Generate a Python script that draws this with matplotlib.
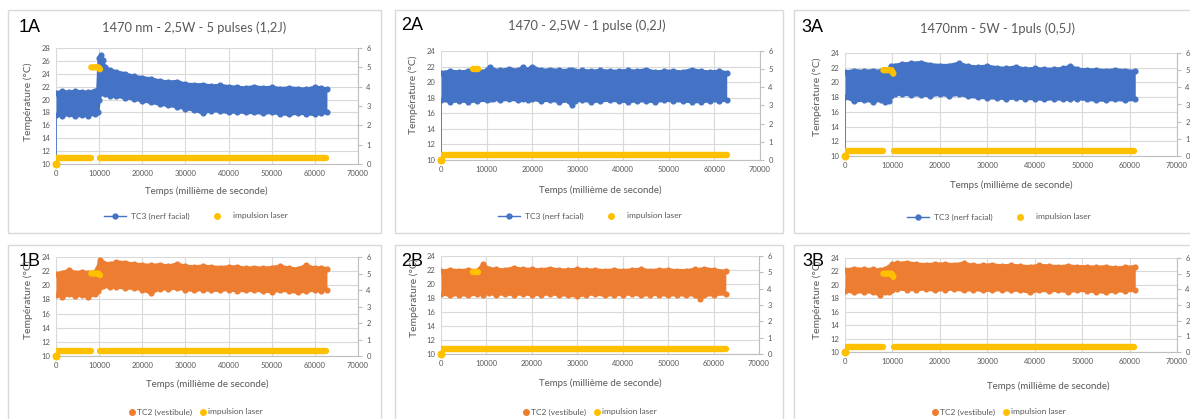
import matplotlib
matplotlib.use("Agg")
import matplotlib.pyplot as plt
from matplotlib.lines import Line2D
from matplotlib.patches import Rectangle

plt.rcParams['font.family'] = ['Lato', 'DejaVu Sans']

W, H = 1190, 419
BLUE = '#4472C4'
ORANGE = '#ED7D31'
YELLOW = '#FFC000'
GREY = '#595959'
GRID = '#D9D9D9'

# ---- mesures TC3 (nerf facial) : enveloppe haute / basse du signal ----
t_1a = [0, 1500, 3000, 4500, 6000, 7500, 9000, 9700, 10000, 10400, 10800, 11300, 12500, 14000, 16000,
        18000, 20000, 22000, 24000, 26000, 28000, 30000, 32000, 34000, 36000, 38000, 40000, 42000,
        44000, 46000, 48000, 50000, 52000, 54000, 56000, 58000, 60000, 61500, 62800]
haut_1a = [21.0, 21.3, 21.1, 21.3, 21.2, 21.1, 21.4, 21.5, 26.5, 26.9, 26.2, 25.0, 24.6, 24.3, 24.0,
           23.6, 23.4, 23.2, 22.9, 22.7, 22.8, 22.4, 22.3, 22.3, 22.1, 22.2, 22.0, 21.9,
           21.8, 22.0, 21.8, 21.9, 21.7, 21.8, 21.7, 21.6, 21.9, 21.8, 21.6]
bas_1a = [17.6, 17.5, 17.7, 17.4, 17.6, 17.5, 17.8, 18.0, 20.0, 21.0, 21.2, 20.8, 20.6, 20.5, 20.3,
          20.1, 19.8, 19.6, 19.3, 19.1, 18.9, 18.6, 18.4, 17.9, 18.3, 18.2, 18.0, 18.1,
          18.0, 18.0, 17.9, 18.0, 17.8, 17.7, 17.9, 17.8, 17.7, 17.9, 18.0]

t_2a = [0, 2000, 4000, 6000, 8000, 10000, 10700, 11500, 13000, 15000, 17000, 18000, 19000, 20000,
        22000, 24000, 26000, 28000, 28700, 29500, 31000, 33000, 35000, 37000, 39000, 41000, 43000,
        45000, 47000, 49000, 51000, 53000, 55000, 57000, 59000, 61000, 62700]
haut_2a = [21.2, 21.4, 21.3, 21.4, 21.3, 21.5, 22.0, 21.6, 21.5, 21.7, 21.5, 22.0, 21.6, 22.0,
           21.5, 21.6, 21.5, 21.5, 21.5, 21.4, 21.5, 21.4, 21.5, 21.4, 21.4, 21.5, 21.4,
           21.6, 21.3, 21.4, 21.4, 21.3, 21.6, 21.4, 21.3, 21.4, 21.2]
bas_2a = [17.7, 17.5, 17.6, 17.5, 17.6, 17.7, 17.8, 17.8, 17.7, 17.8, 17.7, 17.8, 17.7, 17.8,
          17.6, 17.7, 17.5, 17.6, 17.0, 17.6, 17.7, 17.5, 17.6, 17.7, 17.6, 17.5, 17.6,
          17.6, 17.5, 17.7, 17.6, 17.6, 17.5, 17.5, 17.6, 17.6, 17.7]

t_3a = [0, 2000, 4000, 6000, 7500, 8500, 9200, 9800, 10500, 12000, 14000, 16000, 18000, 20000,
        22000, 24000, 26000, 28000, 30000, 32000, 34000, 36000, 38000, 40000, 42000, 44000,
        46000, 47500, 49000, 51000, 53000, 55000, 57000, 59000, 61200]
haut_3a = [21.4, 21.6, 21.5, 21.6, 21.5, 21.6, 21.7, 22.3, 22.3, 22.5, 22.6, 22.7, 22.4, 22.3,
           22.3, 22.6, 22.2, 22.1, 22.2, 22.0, 21.9, 22.1, 21.8, 21.9, 21.8, 21.8,
           21.9, 22.2, 21.8, 21.7, 21.7, 21.6, 21.7, 21.6, 21.5]
bas_3a = [18.0, 17.5, 17.6, 17.4, 17.6, 17.3, 17.5, 18.2, 18.4, 18.4, 18.3, 18.3, 18.2, 18.4,
          18.2, 18.4, 18.1, 18.0, 17.9, 17.9, 17.8, 17.9, 17.8, 17.8, 17.7, 17.8,
          17.7, 17.7, 17.8, 17.7, 17.6, 17.6, 17.7, 17.6, 17.7]

# ---- mesures TC2 (vestibule) ----
t_1b = [0, 1500, 3000, 4500, 6000, 7500, 9000, 9700, 10200, 11000, 12500, 14000, 16000, 18000,
        20000, 22000, 24000, 26000, 28000, 30000, 32000, 34000, 36000, 38000, 40000, 42000,
        44000, 46000, 48000, 50000, 52000, 54000, 56000, 58000, 60000, 61500, 62800]
haut_1b = [21.6, 21.8, 22.1, 21.8, 21.9, 21.8, 21.9, 22.5, 23.6, 23.2, 23.0, 23.3, 23.2, 23.0,
           22.9, 22.8, 22.9, 22.7, 23.0, 22.7, 22.6, 22.7, 22.6, 22.5, 22.6, 22.6,
           22.4, 22.5, 22.4, 22.5, 22.7, 22.4, 22.3, 22.8, 22.4, 22.5, 22.3]
bas_1b = [18.6, 18.4, 18.7, 18.5, 18.6, 18.4, 18.7, 19.2, 19.8, 19.9, 19.7, 19.8, 19.6, 19.6,
          19.4, 18.9, 19.5, 19.5, 19.6, 19.4, 19.3, 19.4, 19.3, 19.3, 19.4, 19.2,
          19.3, 19.3, 19.2, 19.1, 19.3, 19.2, 19.0, 19.2, 19.3, 19.2, 19.4]

t_2b = [0, 2000, 4000, 6000, 8000, 9300, 10500, 12000, 14000, 16000, 18000, 20000, 22000, 24000,
        26000, 28000, 30000, 32000, 34000, 36000, 38000, 40000, 42000, 44000, 46000, 48000,
        50000, 52000, 54000, 56000, 57000, 58000, 60000, 62700]
haut_2b = [21.8, 22.0, 21.9, 22.0, 21.9, 22.8, 22.2, 22.1, 22.0, 22.3, 22.1, 22.1, 22.0, 22.2,
           22.0, 22.0, 22.1, 22.0, 22.0, 21.9, 22.0, 21.9, 22.0, 22.1, 21.9, 22.0,
           22.0, 21.9, 21.9, 22.1, 22.0, 22.2, 22.0, 21.8]
bas_2b = [18.6, 18.4, 18.5, 18.4, 18.6, 18.5, 18.7, 18.5, 18.6, 18.5, 18.6, 18.5, 18.5, 18.6,
          18.5, 18.4, 18.3, 18.5, 18.6, 18.4, 18.5, 18.5, 18.6, 18.4, 18.5, 18.5,
          18.4, 18.5, 18.4, 18.5, 17.9, 18.4, 18.5, 18.6]

t_3b = [0, 2000, 4000, 6000, 7300, 8500, 9300, 10000, 11000, 13000, 15000, 17000, 19000, 21000,
        23000, 25000, 27000, 29000, 31000, 33000, 35000, 37000, 39000, 41000, 43000, 45000,
        47000, 49000, 51000, 53000, 55000, 57000, 59000, 61200]
haut_3b = [22.2, 22.4, 22.3, 22.3, 22.2, 22.4, 22.6, 23.1, 23.2, 23.3, 23.1, 23.0, 23.1, 23.1,
           23.0, 23.2, 22.9, 22.9, 23.0, 22.8, 22.9, 22.8, 22.7, 22.9, 22.8, 22.7,
           22.8, 22.7, 22.7, 22.6, 22.7, 22.5, 22.6, 22.7]
bas_3b = [19.1, 18.9, 19.0, 18.9, 18.5, 18.9, 19.0, 19.3, 19.4, 19.3, 19.3, 19.4, 19.2, 19.3,
          19.4, 19.2, 19.3, 19.2, 19.2, 19.3, 19.2, 19.2, 18.9, 19.2, 19.1, 19.2,
          19.0, 19.2, 19.1, 19.0, 18.9, 19.1, 19.1, 19.2]

# ---- impulsion laser (axe secondaire) : segments de base + impulsion ----
base_1 = [(0, 8000), (10300, 62500)]
pulse_t_1 = [8200, 9000, 9800, 10200]
pulse_v_1 = [5.0, 5.0, 5.0, 4.9]
base_2 = [(0, 62700)]
pulse_t_2 = [7000, 7600, 8100]
pulse_v_2 = [5.0, 5.0, 5.0]
base_3 = [(0, 8000), (10400, 60900)]
pulse_t_3 = [8100, 9000, 9800, 10200]
pulse_v_3 = [5.0, 5.0, 5.0, 4.8]
laser_niveau = 0.3

titres = ['1470 nm - 2,5W - 5 pulses (1,2J)', '1470 - 2,5W - 1 pulse (0,2J)', '1470nm - 5W - 1puls (0,5J)']

fig = plt.figure(figsize=(W / 100, H / 100), dpi=100)
fig.patch.set_facecolor('white')


def fx(x):
    return x / W


def fy(y):
    return 1 - y / H


def cadre(x0, y0, x1, y1):
    fig.patches.append(Rectangle((fx(x0), fy(y1)), fx(x1 - x0), (y1 - y0) / H,
                                 transform=fig.transFigure, fill=False, ec=GRID, lw=1))


def panneau(zone, t, haut, bas, couleur, ymax, base, pulse_t, pulse_v, trait_depart):
    x0, y0, x1, y1 = zone
    ax = fig.add_axes([fx(x0), fy(y1), fx(x1 - x0), (y1 - y0) / H])
    ax.set_xlim(0, 70000)
    ax.set_ylim(10, ymax)
    ax.set_xticks(range(0, 70001, 10000))
    ax.set_yticks(range(10, ymax + 1, 2))
    ax.grid(True, color=GRID, lw=0.8)
    ax.set_axisbelow(True)
    for s in ['top', 'left', 'right']:
        ax.spines[s].set_visible(False)
    ax.spines['bottom'].set_color('#BFBFBF')
    ax.tick_params(length=0, labelsize=5.5, labelcolor=GREY, pad=4)

    if trait_depart:
        ax.plot([0, 0], [10, bas[0]], color=couleur, lw=1.2, zorder=2)
    ax.fill_between(t, bas, haut, color=couleur, lw=0, zorder=3)
    ax.plot(t, haut, color=couleur, lw=2.4, marker='o', ms=3.4, zorder=3, solid_joinstyle='round')
    ax.plot(t, bas, color=couleur, lw=2.4, marker='o', ms=3.4, zorder=3, solid_joinstyle='round')

    ax2 = ax.twinx()
    ax2.set_ylim(0, 6)
    ax2.set_yticks(range(0, 7))
    for s in ['top', 'left', 'bottom']:
        ax2.spines[s].set_visible(False)
    ax2.spines['right'].set_color('#BFBFBF')
    ax2.tick_params(axis='y', length=3, color='#BFBFBF', labelsize=5.5, labelcolor=GREY, pad=3)
    for a, b in base:
        ax2.plot([a, b], [laser_niveau, laser_niveau], color=YELLOW, lw=4.6, solid_capstyle='round')
    ax2.plot(pulse_t, pulse_v, color=YELLOW, lw=4.6, solid_capstyle='round', solid_joinstyle='round')
    ax2.plot([0], [0], 'o', color=YELLOW, ms=4.8, clip_on=False)
    return ax


def textes(label, lx, ly, ylab_x, ylab_y, xlab_x, xlab_y, leg_x, leg_y, couleur, nom, ligne):
    fig.text(fx(lx), fy(ly), label, fontsize=13, family='Liberation Sans', va='center', ha='left')
    fig.text(fx(ylab_x), fy(ylab_y), 'Température (°C)', rotation=90, fontsize=7.5, color=GREY,
             ha='center', va='center')
    fig.text(fx(xlab_x), fy(xlab_y), 'Temps (millième de seconde)', fontsize=7, color=GREY,
             ha='center', va='center')
    if ligne:
        h1 = Line2D([], [], color=couleur, lw=1, marker='o', ms=3.5)
    else:
        h1 = Line2D([], [], color=couleur, lw=0, marker='o', ms=4)
    h2 = Line2D([], [], color=YELLOW, lw=0, marker='o', ms=4)
    leg = fig.legend([h1, h2], [nom, 'impulsion laser'], loc='center', ncol=2,
                     bbox_to_anchor=(fx(leg_x), fy(leg_y)), frameon=False, fontsize=6,
                     handlelength=2.6 if ligne else 0.6, handletextpad=0.6 if ligne else 0.3,
                     columnspacing=2.0 if ligne else 1.0)
    for tx in leg.get_texts():
        tx.set_color(GREY)


# cadres des six graphiques
cadre(8, 10, 381, 233)
cadre(395, 10, 783, 233)
cadre(794, 10, 1196, 233)
cadre(8, 245, 381, 425)
cadre(395, 245, 783, 425)
cadre(794, 245, 1196, 425)

# ligne A : TC3 (nerf facial)
panneau((56, 48, 358, 164), t_1a, haut_1a, bas_1a, BLUE, 28, base_1, pulse_t_1, pulse_v_1, True)
panneau((441, 51, 760, 160), t_2a, haut_2a, bas_2a, BLUE, 24, base_2, pulse_t_2, pulse_v_2, True)
panneau((845, 53, 1177, 156), t_3a, haut_3a, bas_3a, BLUE, 24, base_3, pulse_t_3, pulse_v_3, True)

# ligne B : TC2 (vestibule)
panneau((56, 257, 358, 356), t_1b, haut_1b, bas_1b, ORANGE, 24, base_1, pulse_t_1, pulse_v_1, False)
panneau((441, 256, 759, 354), t_2b, haut_2b, bas_2b, ORANGE, 24, base_2, pulse_t_2, pulse_v_2, False)
panneau((845, 258, 1177, 352), t_3b, haut_3b, bas_3b, ORANGE, 24, base_3, pulse_t_3, pulse_v_3, False)

fig.text(fx(194), fy(28), titres[0], fontsize=9.3, color=GREY, ha='center', va='center')
fig.text(fx(587), fy(26), titres[1], fontsize=9.3, color=GREY, ha='center', va='center')
fig.text(fx(997), fy(29), titres[2], fontsize=9.3, color=GREY, ha='center', va='center')

textes('1A', 19, 28, 28, 102, 206, 191, 196, 216, BLUE, 'TC3 (nerf facial)', True)
textes('2A', 401, 25, 413, 95, 600, 190, 590, 216, BLUE, 'TC3 (nerf facial)', True)
textes('3A', 801, 28, 817, 97, 1011, 185, 999, 217, BLUE, 'TC3 (nerf facial)', True)
textes('1B', 19, 262, 28, 300, 207, 384, 196, 412, ORANGE, 'TC2 (vestibule)', False)
textes('2B', 401, 262, 414, 298, 600, 383, 590, 412, ORANGE, 'TC2 (vestibule)', False)
textes('3B', 802, 262, 817, 300, 1048, 386, 999, 412, ORANGE, 'TC2 (vestibule)', False)

fig.savefig('out.png', dpi=100)
